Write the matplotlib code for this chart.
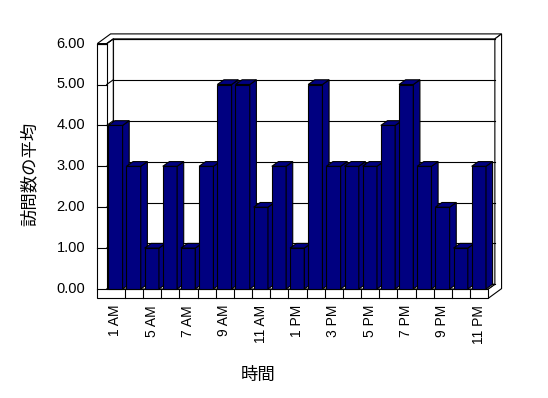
import matplotlib
matplotlib.use("Agg")
import matplotlib.pyplot as plt
from matplotlib.patches import Polygon

plt.rcParams['font.family'] = ['Liberation Sans', 'Noto Sans CJK JP', 'DejaVu Sans']

# ---- data ----
hours = ['1 AM', '4 AM', '5 AM', '6 AM', '7 AM', '8 AM', '9 AM', '10 AM', '11 AM',
         '12 PM', '1 PM', '2 PM', '3 PM', '4 PM', '5 PM', '6 PM', '7 PM', '8 PM',
         '9 PM', '10 PM', '11 PM']
visits = [4, 3, 1, 3, 1, 3, 5, 5, 2, 3, 1, 5, 3, 3, 3, 4, 5, 3, 2, 1, 3]
y_ticks = [0, 1, 2, 3, 4, 5, 6]
y_tick_labels = ['0.00', '1.00', '2.00', '3.00', '4.00', '5.00', '6.00']
x_title = '時間'
y_title = '訪問数の平均'

# ---- layout / style ----
W, H, DPI = 548, 398, 100
PXX, PXY = 18.17, 40.9          # pixels per data unit
X0_PX, Y0_PX = 106.7, 289.0     # pixel position of (x=-0.5, y=0)
dx1, dy1 = 6.6 / PXX, 4.7 / PXY   # depth to back wall
dx2, dy2 = 6.7 / PXX, 5.0 / PXY   # wall thickness
tw = 9.4 / PXX                  # side wall thickness
ft = 9.3 / PXY                  # floor thickness
BAR_W = 0.787
BAR_OFF = -0.412
NAVY = '#000080'
LW = 0.8

fig = plt.figure(figsize=(W / DPI, H / DPI), dpi=DPI)
ax = fig.add_axes([0, 0, 1, 1])
xmin = -0.5 - X0_PX / PXX
ymin = -(H - Y0_PX) / PXY
ax.set_xlim(xmin, xmin + W / PXX)
ax.set_ylim(ymin, ymin + H / PXY)
ax.axis('off')

n = len(visits)
L, R = -0.5, n - 0.5
top = y_ticks[-1]
DX, DY = dx1 + dx2, dy1 + dy2

def poly(pts, fc='white', z=1):
    ax.add_patch(Polygon(pts, closed=True, facecolor=fc, edgecolor='black',
                         linewidth=LW, joinstyle='miter', zorder=z))

# back wall front face
poly([(L + dx1, dy1), (R + dx1, dy1), (R + dx1, top + dy1), (L + dx1, top + dy1)], z=1)
# left wall inner face
poly([(L, 0), (L + dx1, dy1), (L + dx1, top + dy1), (L, top)], z=1)
# top faces of walls
poly([(L - tw, top), (L, top), (L + dx1, top + dy1), (R + dx1, top + dy1),
      (R + DX, top + DY), (L - tw + DX, top + DY)], z=1)
# right side faces (back wall + floor)
poly([(R + dx1, top + dy1), (R + DX, top + DY), (R + DX, -ft + DY), (R, -ft),
      (R, 0), (R + dx1, dy1)], z=1)
# floor top face
poly([(L, 0), (R, 0), (R + dx1, dy1), (L + dx1, dy1)], z=2)
# front L-shaped face (left wall front + floor front)
poly([(L - tw, -ft), (R, -ft), (R, 0), (L, 0), (L, top), (L - tw, top)], z=2)

# gridlines and ticks
for v in y_ticks:
    ax.plot([L + dx1, R + dx1], [v + dy1, v + dy1], color='black', lw=LW, zorder=2)
    ax.plot([L, L + dx1], [v, v + dy1], color='black', lw=LW, zorder=2)
    ax.plot([L - tw, L], [v, v], color='black', lw=LW, zorder=3)
# category ticks on floor front
for k in range(1, n):
    ax.plot([k - 0.5, k - 0.5], [0, -ft], color='black', lw=LW, zorder=3)

# bars (left to right so fronts cover earlier sides)
for k, v in enumerate(visits):
    x0 = k + BAR_OFF
    x1 = x0 + BAR_W
    z = 4 + k * 0.01
    poly([(x0, 0), (x1, 0), (x1, v), (x0, v)], fc=NAVY, z=z)
    poly([(x1, 0), (x1 + dx1, dy1), (x1 + dx1, v + dy1), (x1, v)], fc=NAVY, z=z)
    poly([(x0, v), (x1, v), (x1 + dx1, v + dy1), (x0 + dx1, v + dy1)], fc=NAVY, z=z)

# y tick labels
for v, lab in zip(y_ticks, y_tick_labels):
    ax.annotate(lab, xy=(L - tw, v), xytext=(-12.3 * 72 / DPI, 0),
                textcoords='offset points', ha='right', va='center', fontsize=10.5)

# x tick labels (every other category)
for k in range(0, n, 2):
    ax.annotate(hours[k], xy=(k - 0.02, 0), xytext=(0, -16 * 72 / DPI),
                textcoords='offset points', ha='center', va='top',
                rotation=90, fontsize=10)

fig.text(258 / W, 1 - 375 / H, x_title, ha='center', va='center', fontsize=12.5,
         family=['Noto Sans CJK JP', 'DejaVu Sans'])
fig.text(30 / W, 1 - 174 / H, y_title, ha='center', va='center', fontsize=12.5,
         rotation=90, family=['Noto Sans CJK JP', 'DejaVu Sans'])

fig.savefig('out.png', dpi=DPI)
